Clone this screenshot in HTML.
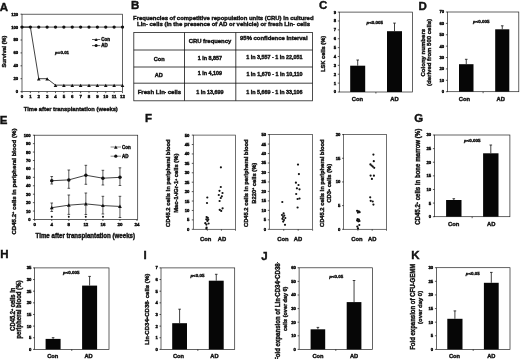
<!DOCTYPE html>
<html><head><meta charset="utf-8"><title>Figure</title>
<style>
html,body{margin:0;padding:0;background:#fff;}
body{width:520px;height:359px;overflow:hidden;}
svg{display:block;font-family:"Liberation Sans",sans-serif;fill:#111;}
text{stroke:#111;stroke-width:0.4px;paint-order:stroke;}
text.tk{stroke-width:0.45px;}
</style></head><body>
<svg width="520" height="359" viewBox="0 0 520 359">
<rect x="0" y="0" width="520" height="359" fill="#fff"/>
<defs><filter id="soft" filterUnits="userSpaceOnUse" x="0" y="0" width="520" height="359" color-interpolation-filters="sRGB"><feGaussianBlur stdDeviation="0.3"/></filter></defs>
<g filter="url(#soft)">
<rect x="0" y="0" width="520" height="359" fill="#fff"/>
<text x="-0.20" y="11.22" font-size="11.5" text-anchor="start" font-weight="bold">A</text>
<text x="131.00" y="9.22" font-size="11.5" text-anchor="start" font-weight="bold">B</text>
<text x="319.00" y="9.32" font-size="11.5" text-anchor="start" font-weight="bold">C</text>
<text x="418.50" y="9.52" font-size="11.5" text-anchor="start" font-weight="bold">D</text>
<text x="-0.30" y="124.23" font-size="11.5" text-anchor="start" font-weight="bold">E</text>
<text x="145.00" y="121.53" font-size="11.5" text-anchor="start" font-weight="bold">F</text>
<text x="414.30" y="122.03" font-size="11.5" text-anchor="start" font-weight="bold">G</text>
<text x="0.20" y="258.22" font-size="11.5" text-anchor="start" font-weight="bold">H</text>
<text x="143.50" y="259.02" font-size="11.5" text-anchor="start" font-weight="bold">I</text>
<text x="261.20" y="259.62" font-size="11.5" text-anchor="start" font-weight="bold">J</text>
<text x="411.30" y="259.02" font-size="11.5" text-anchor="start" font-weight="bold">K</text>
<rect x="22.00" y="14.20" width="100.50" height="77.40" fill="none" stroke="#222" stroke-width="0.7"/>
<line x1="20.50" y1="91.60" x2="22.00" y2="91.60" stroke="#111" stroke-width="0.7"/>
<text x="18.20" y="93.07" font-size="4.2" text-anchor="end" font-weight="bold" class="tk">0</text>
<line x1="20.50" y1="78.70" x2="22.00" y2="78.70" stroke="#111" stroke-width="0.7"/>
<text x="18.20" y="80.17" font-size="4.2" text-anchor="end" font-weight="bold" class="tk">20</text>
<line x1="20.50" y1="65.80" x2="22.00" y2="65.80" stroke="#111" stroke-width="0.7"/>
<text x="18.20" y="67.27" font-size="4.2" text-anchor="end" font-weight="bold" class="tk">40</text>
<line x1="20.50" y1="52.90" x2="22.00" y2="52.90" stroke="#111" stroke-width="0.7"/>
<text x="18.20" y="54.37" font-size="4.2" text-anchor="end" font-weight="bold" class="tk">60</text>
<line x1="20.50" y1="40.00" x2="22.00" y2="40.00" stroke="#111" stroke-width="0.7"/>
<text x="18.20" y="41.47" font-size="4.2" text-anchor="end" font-weight="bold" class="tk">80</text>
<line x1="20.50" y1="27.10" x2="22.00" y2="27.10" stroke="#111" stroke-width="0.7"/>
<text x="18.20" y="28.57" font-size="4.2" text-anchor="end" font-weight="bold" class="tk">100</text>
<line x1="20.50" y1="14.20" x2="22.00" y2="14.20" stroke="#111" stroke-width="0.7"/>
<text x="18.20" y="15.67" font-size="4.2" text-anchor="end" font-weight="bold" class="tk">120</text>
<line x1="22.00" y1="91.60" x2="22.00" y2="93.10" stroke="#111" stroke-width="0.7"/>
<text x="22.00" y="98.24" font-size="4.4" text-anchor="middle" font-weight="bold" class="tk">0</text>
<line x1="30.38" y1="91.60" x2="30.38" y2="93.10" stroke="#111" stroke-width="0.7"/>
<text x="30.38" y="98.24" font-size="4.4" text-anchor="middle" font-weight="bold" class="tk">1</text>
<line x1="38.75" y1="91.60" x2="38.75" y2="93.10" stroke="#111" stroke-width="0.7"/>
<text x="38.75" y="98.24" font-size="4.4" text-anchor="middle" font-weight="bold" class="tk">2</text>
<line x1="47.12" y1="91.60" x2="47.12" y2="93.10" stroke="#111" stroke-width="0.7"/>
<text x="47.12" y="98.24" font-size="4.4" text-anchor="middle" font-weight="bold" class="tk">3</text>
<line x1="55.50" y1="91.60" x2="55.50" y2="93.10" stroke="#111" stroke-width="0.7"/>
<text x="55.50" y="98.24" font-size="4.4" text-anchor="middle" font-weight="bold" class="tk">4</text>
<line x1="63.88" y1="91.60" x2="63.88" y2="93.10" stroke="#111" stroke-width="0.7"/>
<text x="63.88" y="98.24" font-size="4.4" text-anchor="middle" font-weight="bold" class="tk">5</text>
<line x1="72.25" y1="91.60" x2="72.25" y2="93.10" stroke="#111" stroke-width="0.7"/>
<text x="72.25" y="98.24" font-size="4.4" text-anchor="middle" font-weight="bold" class="tk">6</text>
<line x1="80.62" y1="91.60" x2="80.62" y2="93.10" stroke="#111" stroke-width="0.7"/>
<text x="80.62" y="98.24" font-size="4.4" text-anchor="middle" font-weight="bold" class="tk">7</text>
<line x1="89.00" y1="91.60" x2="89.00" y2="93.10" stroke="#111" stroke-width="0.7"/>
<text x="89.00" y="98.24" font-size="4.4" text-anchor="middle" font-weight="bold" class="tk">8</text>
<line x1="97.38" y1="91.60" x2="97.38" y2="93.10" stroke="#111" stroke-width="0.7"/>
<text x="97.38" y="98.24" font-size="4.4" text-anchor="middle" font-weight="bold" class="tk">9</text>
<line x1="105.75" y1="91.60" x2="105.75" y2="93.10" stroke="#111" stroke-width="0.7"/>
<text x="105.75" y="98.24" font-size="4.4" text-anchor="middle" font-weight="bold" class="tk">10</text>
<line x1="114.12" y1="91.60" x2="114.12" y2="93.10" stroke="#111" stroke-width="0.7"/>
<text x="114.12" y="98.24" font-size="4.4" text-anchor="middle" font-weight="bold" class="tk">11</text>
<line x1="122.50" y1="91.60" x2="122.50" y2="93.10" stroke="#111" stroke-width="0.7"/>
<text x="122.50" y="98.24" font-size="4.4" text-anchor="middle" font-weight="bold" class="tk">12</text>
<line x1="22.00" y1="27.10" x2="122.50" y2="27.10" stroke="#222" stroke-width="0.8"/>
<circle cx="22.00" cy="27.10" r="1.65" fill="#111"/>
<circle cx="30.38" cy="27.10" r="1.65" fill="#111"/>
<circle cx="38.75" cy="27.10" r="1.65" fill="#111"/>
<circle cx="47.12" cy="27.10" r="1.65" fill="#111"/>
<circle cx="55.50" cy="27.10" r="1.65" fill="#111"/>
<circle cx="63.88" cy="27.10" r="1.65" fill="#111"/>
<circle cx="72.25" cy="27.10" r="1.65" fill="#111"/>
<circle cx="80.62" cy="27.10" r="1.65" fill="#111"/>
<circle cx="89.00" cy="27.10" r="1.65" fill="#111"/>
<circle cx="97.38" cy="27.10" r="1.65" fill="#111"/>
<circle cx="105.75" cy="27.10" r="1.65" fill="#111"/>
<circle cx="114.12" cy="27.10" r="1.65" fill="#111"/>
<circle cx="122.50" cy="27.10" r="1.65" fill="#111"/>
<polyline points="22.00,27.10 30.38,27.10 38.75,78.70 47.12,78.70 55.50,85.15 63.88,85.15 72.25,85.15 80.62,85.15 89.00,85.15 97.38,85.15 105.75,85.15 114.12,85.15 122.50,85.15" fill="none" stroke="#111" stroke-width="0.8"/>
<path d="M38.75 77.20 L40.55 80.44 L36.95 80.44Z" fill="#111"/>
<path d="M47.12 77.20 L48.92 80.44 L45.33 80.44Z" fill="#111"/>
<path d="M55.50 83.65 L57.30 86.89 L53.70 86.89Z" fill="#111"/>
<path d="M63.88 83.65 L65.67 86.89 L62.08 86.89Z" fill="#111"/>
<path d="M72.25 83.65 L74.05 86.89 L70.45 86.89Z" fill="#111"/>
<path d="M80.62 83.65 L82.42 86.89 L78.83 86.89Z" fill="#111"/>
<path d="M89.00 83.65 L90.80 86.89 L87.20 86.89Z" fill="#111"/>
<path d="M97.38 83.65 L99.17 86.89 L95.58 86.89Z" fill="#111"/>
<path d="M105.75 83.65 L107.55 86.89 L103.95 86.89Z" fill="#111"/>
<path d="M114.12 83.65 L115.92 86.89 L112.33 86.89Z" fill="#111"/>
<path d="M122.50 83.65 L124.30 86.89 L120.70 86.89Z" fill="#111"/>
<text x="70.80" y="110.77" font-size="6.2" text-anchor="middle" font-weight="bold" textLength="94.00" lengthAdjust="spacingAndGlyphs">Time after transplantation (weeks)</text>
<text x="4.20" y="53.56" font-size="5.6" text-anchor="middle" font-weight="bold" transform="rotate(-90 4.20 51.60)" textLength="32.00" lengthAdjust="spacingAndGlyphs">Survival (%)</text>
<text x="62.10" y="54.27" font-size="3.9" text-anchor="middle" font-weight="bold" textLength="14.0" lengthAdjust="spacingAndGlyphs" style="stroke-width:0.35px"><tspan font-style="italic">p</tspan>=0.01</text>
<line x1="92.00" y1="39.50" x2="100.20" y2="39.50" stroke="#111" stroke-width="0.7"/>
<path d="M96.10 38.10 L97.70 40.98 L94.50 40.98Z" fill="#111"/>
<text x="101.20" y="41.08" font-size="4.5" text-anchor="start" font-weight="bold">Con</text>
<line x1="92.00" y1="45.60" x2="100.20" y2="45.60" stroke="#111" stroke-width="0.7"/>
<circle cx="96.10" cy="45.60" r="1.5" fill="#111"/>
<text x="101.20" y="47.18" font-size="4.5" text-anchor="start" font-weight="bold">AD</text>
<text x="223.30" y="19.70" font-size="6.0" text-anchor="middle" font-weight="bold" textLength="180.50" lengthAdjust="spacingAndGlyphs">Frequencies of competitive repopulation units (CRU) in cultured</text>
<text x="223.50" y="26.40" font-size="6.0" text-anchor="middle" font-weight="bold" textLength="173.00" lengthAdjust="spacingAndGlyphs">Lin- cells (in the presence of AD or vehicle) or fresh Lin- cells</text>
<rect x="133.80" y="32.50" width="178.70" height="68.30" fill="none" stroke="#222" stroke-width="0.8"/>
<line x1="133.80" y1="50.00" x2="312.50" y2="50.00" stroke="#111" stroke-width="0.8"/>
<line x1="133.80" y1="67.00" x2="312.50" y2="67.00" stroke="#111" stroke-width="0.8"/>
<line x1="133.80" y1="83.20" x2="312.50" y2="83.20" stroke="#111" stroke-width="0.8"/>
<line x1="184.50" y1="32.50" x2="184.50" y2="100.80" stroke="#111" stroke-width="0.8"/>
<line x1="235.80" y1="32.50" x2="235.80" y2="100.80" stroke="#111" stroke-width="0.8"/>
<text x="210.00" y="43.36" font-size="5.9" text-anchor="middle" font-weight="bold">CRU frequency</text>
<text x="273.80" y="40.06" font-size="5.9" text-anchor="middle" font-weight="bold" textLength="67.50" lengthAdjust="spacingAndGlyphs">95% confidence interval</text>
<text x="159.20" y="60.96" font-size="5.6" text-anchor="middle" font-weight="bold">Con</text>
<text x="209.80" y="60.49" font-size="5.4" text-anchor="middle" font-weight="bold">1 in 8,857</text>
<text x="274.40" y="59.09" font-size="5.4" text-anchor="middle" font-weight="bold">1 in 3,557 - 1 in 22,051</text>
<text x="158.80" y="76.56" font-size="5.6" text-anchor="middle" font-weight="bold">AD</text>
<text x="209.80" y="74.89" font-size="5.4" text-anchor="middle" font-weight="bold">1 in 4,109</text>
<text x="274.40" y="76.49" font-size="5.4" text-anchor="middle" font-weight="bold">1 in 1,670 - 1 in 10,110</text>
<text x="159.4" y="94.06" font-size="5.9" textLength="43.5" lengthAdjust="spacingAndGlyphs" text-anchor="middle" font-weight="bold">Fresh Lin<tspan font-size="3.5" dy="-1.5">-</tspan><tspan dy="1.5"> cells</tspan></text>
<text x="209.80" y="93.89" font-size="5.4" text-anchor="middle" font-weight="bold">1 in 13,699</text>
<text x="274.40" y="93.89" font-size="5.4" text-anchor="middle" font-weight="bold">1 in 5,669 - 1 in 33,106</text>
<rect x="339.30" y="12.10" width="73.20" height="79.90" fill="none" stroke="#222" stroke-width="0.7"/>
<line x1="337.80" y1="92.00" x2="339.30" y2="92.00" stroke="#111" stroke-width="0.7"/>
<text x="336.10" y="93.47" font-size="4.2" text-anchor="end" font-weight="bold" class="tk">0</text>
<line x1="337.80" y1="83.12" x2="339.30" y2="83.12" stroke="#111" stroke-width="0.7"/>
<text x="336.10" y="84.59" font-size="4.2" text-anchor="end" font-weight="bold" class="tk">1</text>
<line x1="337.80" y1="74.24" x2="339.30" y2="74.24" stroke="#111" stroke-width="0.7"/>
<text x="336.10" y="75.71" font-size="4.2" text-anchor="end" font-weight="bold" class="tk">2</text>
<line x1="337.80" y1="65.37" x2="339.30" y2="65.37" stroke="#111" stroke-width="0.7"/>
<text x="336.10" y="66.84" font-size="4.2" text-anchor="end" font-weight="bold" class="tk">3</text>
<line x1="337.80" y1="56.49" x2="339.30" y2="56.49" stroke="#111" stroke-width="0.7"/>
<text x="336.10" y="57.96" font-size="4.2" text-anchor="end" font-weight="bold" class="tk">4</text>
<line x1="337.80" y1="47.61" x2="339.30" y2="47.61" stroke="#111" stroke-width="0.7"/>
<text x="336.10" y="49.08" font-size="4.2" text-anchor="end" font-weight="bold" class="tk">5</text>
<line x1="337.80" y1="38.73" x2="339.30" y2="38.73" stroke="#111" stroke-width="0.7"/>
<text x="336.10" y="40.20" font-size="4.2" text-anchor="end" font-weight="bold" class="tk">6</text>
<line x1="337.80" y1="29.86" x2="339.30" y2="29.86" stroke="#111" stroke-width="0.7"/>
<text x="336.10" y="31.33" font-size="4.2" text-anchor="end" font-weight="bold" class="tk">7</text>
<line x1="337.80" y1="20.98" x2="339.30" y2="20.98" stroke="#111" stroke-width="0.7"/>
<text x="336.10" y="22.45" font-size="4.2" text-anchor="end" font-weight="bold" class="tk">8</text>
<line x1="337.80" y1="12.10" x2="339.30" y2="12.10" stroke="#111" stroke-width="0.7"/>
<text x="336.10" y="13.57" font-size="4.2" text-anchor="end" font-weight="bold" class="tk">9</text>
<rect x="350.20" y="65.70" width="15.00" height="26.30" fill="#060606"/>
<line x1="357.70" y1="65.70" x2="357.70" y2="60.00" stroke="#111" stroke-width="0.8"/>
<line x1="356.40" y1="60.00" x2="359.00" y2="60.00" stroke="#111" stroke-width="0.8"/>
<rect x="387.00" y="31.20" width="15.00" height="60.80" fill="#060606"/>
<line x1="394.50" y1="31.20" x2="394.50" y2="23.10" stroke="#111" stroke-width="0.8"/>
<line x1="393.20" y1="23.10" x2="395.80" y2="23.10" stroke="#111" stroke-width="0.8"/>
<text x="357.50" y="100.53" font-size="5.8" text-anchor="middle" font-weight="bold">Con</text>
<text x="394.50" y="100.53" font-size="5.8" text-anchor="middle" font-weight="bold">AD</text>
<line x1="375.90" y1="92.00" x2="375.90" y2="93.50" stroke="#111" stroke-width="0.7"/>
<text x="374.70" y="24.16" font-size="3.9" text-anchor="middle" font-weight="bold" textLength="16.6" lengthAdjust="spacingAndGlyphs" style="stroke-width:0.35px"><tspan font-style="italic">p</tspan>&lt;0.005</text>
<text x="323.20" y="56.00" font-size="6.0" text-anchor="middle" font-weight="bold" transform="rotate(-90 323.20 53.90)" textLength="36.20" lengthAdjust="spacingAndGlyphs">LSK cells (%)</text>
<rect x="447.40" y="12.00" width="71.40" height="79.70" fill="none" stroke="#222" stroke-width="0.7"/>
<line x1="445.90" y1="91.70" x2="447.40" y2="91.70" stroke="#111" stroke-width="0.7"/>
<text x="444.20" y="93.17" font-size="4.2" text-anchor="end" font-weight="bold" class="tk">0</text>
<line x1="445.90" y1="80.31" x2="447.40" y2="80.31" stroke="#111" stroke-width="0.7"/>
<text x="444.20" y="81.78" font-size="4.2" text-anchor="end" font-weight="bold" class="tk">10</text>
<line x1="445.90" y1="68.93" x2="447.40" y2="68.93" stroke="#111" stroke-width="0.7"/>
<text x="444.20" y="70.40" font-size="4.2" text-anchor="end" font-weight="bold" class="tk">20</text>
<line x1="445.90" y1="57.54" x2="447.40" y2="57.54" stroke="#111" stroke-width="0.7"/>
<text x="444.20" y="59.01" font-size="4.2" text-anchor="end" font-weight="bold" class="tk">30</text>
<line x1="445.90" y1="46.16" x2="447.40" y2="46.16" stroke="#111" stroke-width="0.7"/>
<text x="444.20" y="47.63" font-size="4.2" text-anchor="end" font-weight="bold" class="tk">40</text>
<line x1="445.90" y1="34.77" x2="447.40" y2="34.77" stroke="#111" stroke-width="0.7"/>
<text x="444.20" y="36.24" font-size="4.2" text-anchor="end" font-weight="bold" class="tk">50</text>
<line x1="445.90" y1="23.39" x2="447.40" y2="23.39" stroke="#111" stroke-width="0.7"/>
<text x="444.20" y="24.86" font-size="4.2" text-anchor="end" font-weight="bold" class="tk">60</text>
<line x1="445.90" y1="12.00" x2="447.40" y2="12.00" stroke="#111" stroke-width="0.7"/>
<text x="444.20" y="13.47" font-size="4.2" text-anchor="end" font-weight="bold" class="tk">70</text>
<rect x="459.00" y="64.20" width="14.50" height="27.50" fill="#060606"/>
<line x1="466.25" y1="64.20" x2="466.25" y2="59.30" stroke="#111" stroke-width="0.8"/>
<line x1="464.95" y1="59.30" x2="467.55" y2="59.30" stroke="#111" stroke-width="0.8"/>
<rect x="495.20" y="29.30" width="14.10" height="62.40" fill="#060606"/>
<line x1="502.25" y1="29.30" x2="502.25" y2="25.80" stroke="#111" stroke-width="0.8"/>
<line x1="500.95" y1="25.80" x2="503.55" y2="25.80" stroke="#111" stroke-width="0.8"/>
<text x="464.50" y="100.53" font-size="5.8" text-anchor="middle" font-weight="bold">Con</text>
<text x="500.80" y="100.53" font-size="5.8" text-anchor="middle" font-weight="bold">AD</text>
<line x1="483.10" y1="91.70" x2="483.10" y2="93.20" stroke="#111" stroke-width="0.7"/>
<text x="481.30" y="22.76" font-size="3.9" text-anchor="middle" font-weight="bold" textLength="16.6" lengthAdjust="spacingAndGlyphs" style="stroke-width:0.35px"><tspan font-style="italic">p</tspan>&lt;0.005</text>
<text x="422.80" y="54.84" font-size="6.1" text-anchor="middle" font-weight="bold" transform="rotate(-90 422.80 52.70)" textLength="47.60" lengthAdjust="spacingAndGlyphs">Colony numbers</text>
<text x="428.90" y="54.53" font-size="6.1" text-anchor="middle" font-weight="bold" transform="rotate(-90 428.90 52.40)" textLength="67.00" lengthAdjust="spacingAndGlyphs">(derived from 500 cells)</text>
<rect x="34.40" y="135.20" width="103.30" height="84.30" fill="none" stroke="#222" stroke-width="0.7"/>
<line x1="32.90" y1="219.50" x2="34.40" y2="219.50" stroke="#111" stroke-width="0.7"/>
<text x="30.70" y="220.97" font-size="4.2" text-anchor="end" font-weight="bold" class="tk">0</text>
<line x1="32.90" y1="211.07" x2="34.40" y2="211.07" stroke="#111" stroke-width="0.7"/>
<text x="30.70" y="212.54" font-size="4.2" text-anchor="end" font-weight="bold" class="tk">10</text>
<line x1="32.90" y1="202.64" x2="34.40" y2="202.64" stroke="#111" stroke-width="0.7"/>
<text x="30.70" y="204.11" font-size="4.2" text-anchor="end" font-weight="bold" class="tk">20</text>
<line x1="32.90" y1="194.21" x2="34.40" y2="194.21" stroke="#111" stroke-width="0.7"/>
<text x="30.70" y="195.68" font-size="4.2" text-anchor="end" font-weight="bold" class="tk">30</text>
<line x1="32.90" y1="185.78" x2="34.40" y2="185.78" stroke="#111" stroke-width="0.7"/>
<text x="30.70" y="187.25" font-size="4.2" text-anchor="end" font-weight="bold" class="tk">40</text>
<line x1="32.90" y1="177.35" x2="34.40" y2="177.35" stroke="#111" stroke-width="0.7"/>
<text x="30.70" y="178.82" font-size="4.2" text-anchor="end" font-weight="bold" class="tk">50</text>
<line x1="32.90" y1="168.92" x2="34.40" y2="168.92" stroke="#111" stroke-width="0.7"/>
<text x="30.70" y="170.39" font-size="4.2" text-anchor="end" font-weight="bold" class="tk">60</text>
<line x1="32.90" y1="160.49" x2="34.40" y2="160.49" stroke="#111" stroke-width="0.7"/>
<text x="30.70" y="161.96" font-size="4.2" text-anchor="end" font-weight="bold" class="tk">70</text>
<line x1="32.90" y1="152.06" x2="34.40" y2="152.06" stroke="#111" stroke-width="0.7"/>
<text x="30.70" y="153.53" font-size="4.2" text-anchor="end" font-weight="bold" class="tk">80</text>
<line x1="32.90" y1="143.63" x2="34.40" y2="143.63" stroke="#111" stroke-width="0.7"/>
<text x="30.70" y="145.10" font-size="4.2" text-anchor="end" font-weight="bold" class="tk">90</text>
<line x1="32.90" y1="135.20" x2="34.40" y2="135.20" stroke="#111" stroke-width="0.7"/>
<text x="30.70" y="136.67" font-size="4.2" text-anchor="end" font-weight="bold" class="tk">100</text>
<line x1="34.70" y1="219.50" x2="34.70" y2="221.00" stroke="#111" stroke-width="0.7"/>
<text x="34.70" y="226.24" font-size="4.4" text-anchor="middle" font-weight="bold" class="tk">0</text>
<line x1="51.75" y1="219.50" x2="51.75" y2="221.00" stroke="#111" stroke-width="0.7"/>
<text x="51.75" y="226.24" font-size="4.4" text-anchor="middle" font-weight="bold" class="tk">4</text>
<line x1="68.80" y1="219.50" x2="68.80" y2="221.00" stroke="#111" stroke-width="0.7"/>
<text x="68.80" y="226.24" font-size="4.4" text-anchor="middle" font-weight="bold" class="tk">8</text>
<line x1="85.85" y1="219.50" x2="85.85" y2="221.00" stroke="#111" stroke-width="0.7"/>
<text x="85.85" y="226.24" font-size="4.4" text-anchor="middle" font-weight="bold" class="tk">12</text>
<line x1="102.90" y1="219.50" x2="102.90" y2="221.00" stroke="#111" stroke-width="0.7"/>
<text x="102.90" y="226.24" font-size="4.4" text-anchor="middle" font-weight="bold" class="tk">16</text>
<line x1="119.95" y1="219.50" x2="119.95" y2="221.00" stroke="#111" stroke-width="0.7"/>
<text x="119.95" y="226.24" font-size="4.4" text-anchor="middle" font-weight="bold" class="tk">20</text>
<line x1="137.00" y1="219.50" x2="137.00" y2="221.00" stroke="#111" stroke-width="0.7"/>
<text x="137.00" y="226.24" font-size="4.4" text-anchor="middle" font-weight="bold" class="tk">24</text>
<polyline points="51.75,180.72 68.80,179.88 85.85,175.24 102.90,178.19 119.95,177.35" fill="none" stroke="#111" stroke-width="0.8"/>
<line x1="51.75" y1="176.50" x2="51.75" y2="184.00" stroke="#111" stroke-width="0.7"/>
<line x1="50.45" y1="176.50" x2="53.05" y2="176.50" stroke="#111" stroke-width="0.7"/>
<line x1="50.45" y1="184.00" x2="53.05" y2="184.00" stroke="#111" stroke-width="0.7"/>
<circle cx="51.75" cy="180.72" r="1.75" fill="#111"/>
<line x1="68.80" y1="170.00" x2="68.80" y2="188.30" stroke="#111" stroke-width="0.7"/>
<line x1="67.50" y1="170.00" x2="70.10" y2="170.00" stroke="#111" stroke-width="0.7"/>
<line x1="67.50" y1="188.30" x2="70.10" y2="188.30" stroke="#111" stroke-width="0.7"/>
<circle cx="68.80" cy="179.88" r="1.75" fill="#111"/>
<line x1="85.85" y1="165.30" x2="85.85" y2="184.30" stroke="#111" stroke-width="0.7"/>
<line x1="84.55" y1="165.30" x2="87.15" y2="165.30" stroke="#111" stroke-width="0.7"/>
<line x1="84.55" y1="184.30" x2="87.15" y2="184.30" stroke="#111" stroke-width="0.7"/>
<circle cx="85.85" cy="175.24" r="1.75" fill="#111"/>
<line x1="102.90" y1="170.30" x2="102.90" y2="185.00" stroke="#111" stroke-width="0.7"/>
<line x1="101.60" y1="170.30" x2="104.20" y2="170.30" stroke="#111" stroke-width="0.7"/>
<line x1="101.60" y1="185.00" x2="104.20" y2="185.00" stroke="#111" stroke-width="0.7"/>
<circle cx="102.90" cy="178.19" r="1.75" fill="#111"/>
<line x1="119.95" y1="167.80" x2="119.95" y2="185.50" stroke="#111" stroke-width="0.7"/>
<line x1="118.65" y1="167.80" x2="121.25" y2="167.80" stroke="#111" stroke-width="0.7"/>
<line x1="118.65" y1="185.50" x2="121.25" y2="185.50" stroke="#111" stroke-width="0.7"/>
<circle cx="119.95" cy="177.35" r="1.75" fill="#111"/>
<polyline points="51.75,207.70 68.80,205.17 85.85,203.90 102.90,205.59 119.95,206.43" fill="none" stroke="#111" stroke-width="0.8"/>
<line x1="51.75" y1="203.00" x2="51.75" y2="211.50" stroke="#111" stroke-width="0.7"/>
<line x1="50.45" y1="203.00" x2="53.05" y2="203.00" stroke="#111" stroke-width="0.7"/>
<line x1="50.45" y1="211.50" x2="53.05" y2="211.50" stroke="#111" stroke-width="0.7"/>
<path d="M51.75 205.80 L53.65 209.22 L49.85 209.22Z" fill="#111"/>
<line x1="68.80" y1="195.00" x2="68.80" y2="214.40" stroke="#111" stroke-width="0.7"/>
<line x1="67.50" y1="195.00" x2="70.10" y2="195.00" stroke="#111" stroke-width="0.7"/>
<line x1="67.50" y1="214.40" x2="70.10" y2="214.40" stroke="#111" stroke-width="0.7"/>
<path d="M68.80 203.27 L70.70 206.69 L66.90 206.69Z" fill="#111"/>
<line x1="85.85" y1="193.00" x2="85.85" y2="214.50" stroke="#111" stroke-width="0.7"/>
<line x1="84.55" y1="193.00" x2="87.15" y2="193.00" stroke="#111" stroke-width="0.7"/>
<line x1="84.55" y1="214.50" x2="87.15" y2="214.50" stroke="#111" stroke-width="0.7"/>
<path d="M85.85 202.00 L87.75 205.42 L83.95 205.42Z" fill="#111"/>
<line x1="102.90" y1="196.30" x2="102.90" y2="214.00" stroke="#111" stroke-width="0.7"/>
<line x1="101.60" y1="196.30" x2="104.20" y2="196.30" stroke="#111" stroke-width="0.7"/>
<line x1="101.60" y1="214.00" x2="104.20" y2="214.00" stroke="#111" stroke-width="0.7"/>
<path d="M102.90 203.69 L104.80 207.11 L101.00 207.11Z" fill="#111"/>
<line x1="119.95" y1="196.30" x2="119.95" y2="217.50" stroke="#111" stroke-width="0.7"/>
<line x1="118.65" y1="196.30" x2="121.25" y2="196.30" stroke="#111" stroke-width="0.7"/>
<line x1="118.65" y1="217.50" x2="121.25" y2="217.50" stroke="#111" stroke-width="0.7"/>
<path d="M119.95 204.53 L121.85 207.95 L118.05 207.95Z" fill="#111"/>
<text x="51.75" y="219.23" font-size="3.8" text-anchor="middle" font-weight="bold">*</text>
<text x="68.80" y="219.23" font-size="3.8" text-anchor="middle" font-weight="bold">*</text>
<text x="85.85" y="219.23" font-size="3.8" text-anchor="middle" font-weight="bold">*</text>
<text x="102.90" y="219.23" font-size="3.8" text-anchor="middle" font-weight="bold">*</text>
<text x="85.30" y="238.24" font-size="6.4" text-anchor="middle" font-weight="bold" textLength="99.50" lengthAdjust="spacingAndGlyphs">Time after transplantation (weeks)</text>
<text x="13.50" y="183.77" font-size="6.2" text-anchor="middle" font-weight="bold" transform="rotate(-90 13.50 181.60)" textLength="106.00" lengthAdjust="spacingAndGlyphs">CD45.2<tspan font-size='4' dy='-1.5'>+</tspan><tspan dy='1.5'> cells in peripheral blood (%)</tspan></text>
<line x1="110.60" y1="147.00" x2="121.00" y2="147.00" stroke="#555" stroke-width="0.7"/>
<path d="M115.80 145.40 L117.60 148.64 L114.00 148.64Z" fill="#111"/>
<text x="122.00" y="148.57" font-size="4.5" text-anchor="start" font-weight="bold">Con</text>
<line x1="110.60" y1="156.20" x2="121.00" y2="156.20" stroke="#555" stroke-width="0.7"/>
<circle cx="115.80" cy="156.20" r="1.6" fill="#111"/>
<text x="122.00" y="157.77" font-size="4.5" text-anchor="start" font-weight="bold">AD</text>
<rect x="193.30" y="135.10" width="42.20" height="94.20" fill="none" stroke="#333" stroke-width="0.7"/>
<line x1="191.80" y1="229.30" x2="193.30" y2="229.30" stroke="#111" stroke-width="0.7"/>
<text x="189.40" y="230.77" font-size="4.2" text-anchor="end" font-weight="bold" class="tk">0</text>
<line x1="191.80" y1="219.88" x2="193.30" y2="219.88" stroke="#111" stroke-width="0.7"/>
<text x="189.40" y="221.35" font-size="4.2" text-anchor="end" font-weight="bold" class="tk">5</text>
<line x1="191.80" y1="210.46" x2="193.30" y2="210.46" stroke="#111" stroke-width="0.7"/>
<text x="189.40" y="211.93" font-size="4.2" text-anchor="end" font-weight="bold" class="tk">10</text>
<line x1="191.80" y1="201.04" x2="193.30" y2="201.04" stroke="#111" stroke-width="0.7"/>
<text x="189.40" y="202.51" font-size="4.2" text-anchor="end" font-weight="bold" class="tk">15</text>
<line x1="191.80" y1="191.62" x2="193.30" y2="191.62" stroke="#111" stroke-width="0.7"/>
<text x="189.40" y="193.09" font-size="4.2" text-anchor="end" font-weight="bold" class="tk">20</text>
<line x1="191.80" y1="182.20" x2="193.30" y2="182.20" stroke="#111" stroke-width="0.7"/>
<text x="189.40" y="183.67" font-size="4.2" text-anchor="end" font-weight="bold" class="tk">25</text>
<line x1="191.80" y1="172.78" x2="193.30" y2="172.78" stroke="#111" stroke-width="0.7"/>
<text x="189.40" y="174.25" font-size="4.2" text-anchor="end" font-weight="bold" class="tk">30</text>
<line x1="191.80" y1="163.36" x2="193.30" y2="163.36" stroke="#111" stroke-width="0.7"/>
<text x="189.40" y="164.83" font-size="4.2" text-anchor="end" font-weight="bold" class="tk">35</text>
<line x1="191.80" y1="153.94" x2="193.30" y2="153.94" stroke="#111" stroke-width="0.7"/>
<text x="189.40" y="155.41" font-size="4.2" text-anchor="end" font-weight="bold" class="tk">40</text>
<line x1="191.80" y1="144.52" x2="193.30" y2="144.52" stroke="#111" stroke-width="0.7"/>
<text x="189.40" y="145.99" font-size="4.2" text-anchor="end" font-weight="bold" class="tk">45</text>
<line x1="191.80" y1="135.10" x2="193.30" y2="135.10" stroke="#111" stroke-width="0.7"/>
<text x="189.40" y="136.57" font-size="4.2" text-anchor="end" font-weight="bold" class="tk">50</text>
<text x="205.70" y="240.73" font-size="5.8" text-anchor="middle" font-weight="bold">Con</text>
<text x="222.00" y="240.73" font-size="5.8" text-anchor="middle" font-weight="bold">AD</text>
<line x1="207.37" y1="229.30" x2="207.37" y2="230.70" stroke="#111" stroke-width="0.7"/>
<line x1="221.43" y1="229.30" x2="221.43" y2="230.70" stroke="#111" stroke-width="0.7"/>
<line x1="235.50" y1="229.30" x2="235.50" y2="230.70" stroke="#111" stroke-width="0.7"/>
<circle cx="207.30" cy="197.50" r="1.1" fill="#111"/>
<circle cx="207.00" cy="203.00" r="1.1" fill="#111"/>
<circle cx="206.60" cy="217.00" r="1.1" fill="#111"/>
<circle cx="207.80" cy="217.80" r="1.1" fill="#111"/>
<circle cx="206.30" cy="219.30" r="1.1" fill="#111"/>
<circle cx="208.30" cy="219.60" r="1.1" fill="#111"/>
<circle cx="207.40" cy="220.90" r="1.1" fill="#111"/>
<circle cx="205.30" cy="223.20" r="1.1" fill="#111"/>
<circle cx="208.60" cy="223.50" r="1.1" fill="#111"/>
<circle cx="206.40" cy="224.60" r="1.1" fill="#111"/>
<circle cx="206.60" cy="227.60" r="1.1" fill="#111"/>
<circle cx="206.40" cy="228.60" r="1.1" fill="#111"/>
<circle cx="220.90" cy="167.30" r="1.1" fill="#111"/>
<circle cx="220.80" cy="187.00" r="1.1" fill="#111"/>
<circle cx="219.50" cy="190.80" r="1.1" fill="#111"/>
<circle cx="222.50" cy="193.00" r="1.1" fill="#111"/>
<circle cx="218.80" cy="195.00" r="1.1" fill="#111"/>
<circle cx="221.80" cy="196.30" r="1.1" fill="#111"/>
<circle cx="220.80" cy="198.00" r="1.1" fill="#111"/>
<circle cx="219.60" cy="201.00" r="1.1" fill="#111"/>
<circle cx="222.60" cy="208.30" r="1.1" fill="#111"/>
<circle cx="219.70" cy="209.80" r="1.1" fill="#111"/>
<circle cx="221.20" cy="210.90" r="1.1" fill="#111"/>
<text x="168.40" y="185.23" font-size="5.8" text-anchor="middle" font-weight="bold" transform="rotate(-90 168.40 183.20)" textLength="87.60" lengthAdjust="spacingAndGlyphs">CD45.2 cells in peripheral blood</text>
<text x="176.20" y="185.23" font-size="5.8" text-anchor="middle" font-weight="bold" transform="rotate(-90 176.20 183.20)">Mac-1<tspan font-size='3.4' dy='-1.3'>+</tspan><tspan dy='1.3'>/Gr-1</tspan><tspan font-size='3.4' dy='-1.3'>+</tspan><tspan dy='1.3'> cells (%)</tspan></text>
<rect x="269.30" y="134.60" width="43.30" height="94.70" fill="none" stroke="#333" stroke-width="0.7"/>
<line x1="267.80" y1="229.30" x2="269.30" y2="229.30" stroke="#111" stroke-width="0.7"/>
<text x="266.10" y="230.77" font-size="4.2" text-anchor="end" font-weight="bold" class="tk">0</text>
<line x1="267.80" y1="219.83" x2="269.30" y2="219.83" stroke="#111" stroke-width="0.7"/>
<text x="266.10" y="221.30" font-size="4.2" text-anchor="end" font-weight="bold" class="tk">5</text>
<line x1="267.80" y1="210.36" x2="269.30" y2="210.36" stroke="#111" stroke-width="0.7"/>
<text x="266.10" y="211.83" font-size="4.2" text-anchor="end" font-weight="bold" class="tk">10</text>
<line x1="267.80" y1="200.89" x2="269.30" y2="200.89" stroke="#111" stroke-width="0.7"/>
<text x="266.10" y="202.36" font-size="4.2" text-anchor="end" font-weight="bold" class="tk">15</text>
<line x1="267.80" y1="191.42" x2="269.30" y2="191.42" stroke="#111" stroke-width="0.7"/>
<text x="266.10" y="192.89" font-size="4.2" text-anchor="end" font-weight="bold" class="tk">20</text>
<line x1="267.80" y1="181.95" x2="269.30" y2="181.95" stroke="#111" stroke-width="0.7"/>
<text x="266.10" y="183.42" font-size="4.2" text-anchor="end" font-weight="bold" class="tk">25</text>
<line x1="267.80" y1="172.48" x2="269.30" y2="172.48" stroke="#111" stroke-width="0.7"/>
<text x="266.10" y="173.95" font-size="4.2" text-anchor="end" font-weight="bold" class="tk">30</text>
<line x1="267.80" y1="163.01" x2="269.30" y2="163.01" stroke="#111" stroke-width="0.7"/>
<text x="266.10" y="164.48" font-size="4.2" text-anchor="end" font-weight="bold" class="tk">35</text>
<line x1="267.80" y1="153.54" x2="269.30" y2="153.54" stroke="#111" stroke-width="0.7"/>
<text x="266.10" y="155.01" font-size="4.2" text-anchor="end" font-weight="bold" class="tk">40</text>
<line x1="267.80" y1="144.07" x2="269.30" y2="144.07" stroke="#111" stroke-width="0.7"/>
<text x="266.10" y="145.54" font-size="4.2" text-anchor="end" font-weight="bold" class="tk">45</text>
<line x1="267.80" y1="134.60" x2="269.30" y2="134.60" stroke="#111" stroke-width="0.7"/>
<text x="266.10" y="136.07" font-size="4.2" text-anchor="end" font-weight="bold" class="tk">50</text>
<text x="283.00" y="240.73" font-size="5.8" text-anchor="middle" font-weight="bold">Con</text>
<text x="298.00" y="240.73" font-size="5.8" text-anchor="middle" font-weight="bold">AD</text>
<line x1="283.73" y1="229.30" x2="283.73" y2="230.70" stroke="#111" stroke-width="0.7"/>
<line x1="298.17" y1="229.30" x2="298.17" y2="230.70" stroke="#111" stroke-width="0.7"/>
<line x1="312.60" y1="229.30" x2="312.60" y2="230.70" stroke="#111" stroke-width="0.7"/>
<circle cx="282.30" cy="202.00" r="1.1" fill="#111"/>
<circle cx="283.60" cy="213.40" r="1.1" fill="#111"/>
<circle cx="282.00" cy="215.00" r="1.1" fill="#111"/>
<circle cx="284.30" cy="215.60" r="1.1" fill="#111"/>
<circle cx="283.00" cy="217.00" r="1.1" fill="#111"/>
<circle cx="285.30" cy="218.00" r="1.1" fill="#111"/>
<circle cx="282.40" cy="218.80" r="1.1" fill="#111"/>
<circle cx="284.00" cy="220.00" r="1.1" fill="#111"/>
<circle cx="283.20" cy="221.60" r="1.1" fill="#111"/>
<circle cx="285.00" cy="224.80" r="1.1" fill="#111"/>
<circle cx="298.00" cy="164.60" r="1.1" fill="#111"/>
<circle cx="298.90" cy="174.10" r="1.1" fill="#111"/>
<circle cx="295.90" cy="182.70" r="1.1" fill="#111"/>
<circle cx="298.50" cy="185.00" r="1.1" fill="#111"/>
<circle cx="296.90" cy="188.30" r="1.1" fill="#111"/>
<circle cx="299.50" cy="189.30" r="1.1" fill="#111"/>
<circle cx="296.20" cy="194.00" r="1.1" fill="#111"/>
<circle cx="297.60" cy="199.00" r="1.1" fill="#111"/>
<circle cx="299.50" cy="198.50" r="1.1" fill="#111"/>
<circle cx="297.60" cy="207.50" r="1.1" fill="#111"/>
<text x="246.00" y="185.23" font-size="5.8" text-anchor="middle" font-weight="bold" transform="rotate(-90 246.00 183.20)" textLength="87.60" lengthAdjust="spacingAndGlyphs">CD45.2 cells in peripheral blood</text>
<text x="253.60" y="185.23" font-size="5.8" text-anchor="middle" font-weight="bold" transform="rotate(-90 253.60 183.20)">B220<tspan font-size='3.4' dy='-1.3'>+</tspan><tspan dy='1.3'> cells (%)</tspan></text>
<rect x="343.60" y="134.60" width="42.90" height="94.70" fill="none" stroke="#333" stroke-width="0.7"/>
<line x1="342.10" y1="229.30" x2="343.60" y2="229.30" stroke="#111" stroke-width="0.7"/>
<text x="340.40" y="230.77" font-size="4.2" text-anchor="end" font-weight="bold" class="tk">0</text>
<line x1="342.10" y1="205.62" x2="343.60" y2="205.62" stroke="#111" stroke-width="0.7"/>
<text x="340.40" y="207.09" font-size="4.2" text-anchor="end" font-weight="bold" class="tk">5</text>
<line x1="342.10" y1="181.95" x2="343.60" y2="181.95" stroke="#111" stroke-width="0.7"/>
<text x="340.40" y="183.42" font-size="4.2" text-anchor="end" font-weight="bold" class="tk">10</text>
<line x1="342.10" y1="158.28" x2="343.60" y2="158.28" stroke="#111" stroke-width="0.7"/>
<text x="340.40" y="159.75" font-size="4.2" text-anchor="end" font-weight="bold" class="tk">15</text>
<line x1="342.10" y1="134.60" x2="343.60" y2="134.60" stroke="#111" stroke-width="0.7"/>
<text x="340.40" y="136.07" font-size="4.2" text-anchor="end" font-weight="bold" class="tk">20</text>
<text x="356.90" y="240.73" font-size="5.8" text-anchor="middle" font-weight="bold">Con</text>
<text x="372.30" y="240.73" font-size="5.8" text-anchor="middle" font-weight="bold">AD</text>
<line x1="357.90" y1="229.30" x2="357.90" y2="230.70" stroke="#111" stroke-width="0.7"/>
<line x1="372.20" y1="229.30" x2="372.20" y2="230.70" stroke="#111" stroke-width="0.7"/>
<line x1="386.50" y1="229.30" x2="386.50" y2="230.70" stroke="#111" stroke-width="0.7"/>
<circle cx="357.10" cy="210.80" r="1.1" fill="#111"/>
<circle cx="358.80" cy="211.40" r="1.1" fill="#111"/>
<circle cx="357.90" cy="212.60" r="1.1" fill="#111"/>
<circle cx="359.60" cy="212.20" r="1.1" fill="#111"/>
<circle cx="357.60" cy="219.10" r="1.1" fill="#111"/>
<circle cx="358.90" cy="219.60" r="1.1" fill="#111"/>
<circle cx="357.10" cy="220.40" r="1.1" fill="#111"/>
<circle cx="358.30" cy="221.30" r="1.1" fill="#111"/>
<circle cx="359.50" cy="221.00" r="1.1" fill="#111"/>
<circle cx="359.30" cy="225.00" r="1.1" fill="#111"/>
<circle cx="357.30" cy="226.60" r="1.1" fill="#111"/>
<circle cx="358.00" cy="228.40" r="1.1" fill="#111"/>
<circle cx="373.40" cy="154.60" r="1.1" fill="#111"/>
<circle cx="373.80" cy="161.20" r="1.1" fill="#111"/>
<circle cx="370.40" cy="164.40" r="1.1" fill="#111"/>
<circle cx="371.60" cy="165.50" r="1.1" fill="#111"/>
<circle cx="372.80" cy="166.60" r="1.1" fill="#111"/>
<circle cx="374.20" cy="167.80" r="1.1" fill="#111"/>
<circle cx="370.60" cy="175.60" r="1.1" fill="#111"/>
<circle cx="373.90" cy="175.70" r="1.1" fill="#111"/>
<circle cx="371.90" cy="178.90" r="1.1" fill="#111"/>
<circle cx="370.20" cy="197.30" r="1.1" fill="#111"/>
<circle cx="370.70" cy="200.80" r="1.1" fill="#111"/>
<circle cx="372.70" cy="201.50" r="1.1" fill="#111"/>
<circle cx="373.40" cy="204.60" r="1.1" fill="#111"/>
<text x="321.90" y="185.23" font-size="5.8" text-anchor="middle" font-weight="bold" transform="rotate(-90 321.90 183.20)" textLength="87.60" lengthAdjust="spacingAndGlyphs">CD45.2 cells in peripheral blood</text>
<text x="329.20" y="185.23" font-size="5.8" text-anchor="middle" font-weight="bold" transform="rotate(-90 329.20 183.20)">CD3<tspan font-size='3.4' dy='-1.3'>+</tspan><tspan dy='1.3'> cells (%)</tspan></text>
<rect x="434.40" y="135.00" width="75.50" height="81.70" fill="none" stroke="#222" stroke-width="0.7"/>
<line x1="432.90" y1="216.70" x2="434.40" y2="216.70" stroke="#111" stroke-width="0.7"/>
<text x="431.20" y="218.17" font-size="4.2" text-anchor="end" font-weight="bold" class="tk">0</text>
<line x1="432.90" y1="203.08" x2="434.40" y2="203.08" stroke="#111" stroke-width="0.7"/>
<text x="431.20" y="204.55" font-size="4.2" text-anchor="end" font-weight="bold" class="tk">5</text>
<line x1="432.90" y1="189.47" x2="434.40" y2="189.47" stroke="#111" stroke-width="0.7"/>
<text x="431.20" y="190.94" font-size="4.2" text-anchor="end" font-weight="bold" class="tk">10</text>
<line x1="432.90" y1="175.85" x2="434.40" y2="175.85" stroke="#111" stroke-width="0.7"/>
<text x="431.20" y="177.32" font-size="4.2" text-anchor="end" font-weight="bold" class="tk">15</text>
<line x1="432.90" y1="162.23" x2="434.40" y2="162.23" stroke="#111" stroke-width="0.7"/>
<text x="431.20" y="163.70" font-size="4.2" text-anchor="end" font-weight="bold" class="tk">20</text>
<line x1="432.90" y1="148.62" x2="434.40" y2="148.62" stroke="#111" stroke-width="0.7"/>
<text x="431.20" y="150.09" font-size="4.2" text-anchor="end" font-weight="bold" class="tk">25</text>
<line x1="432.90" y1="135.00" x2="434.40" y2="135.00" stroke="#111" stroke-width="0.7"/>
<text x="431.20" y="136.47" font-size="4.2" text-anchor="end" font-weight="bold" class="tk">30</text>
<rect x="446.10" y="200.00" width="15.40" height="16.70" fill="#060606"/>
<line x1="453.80" y1="200.00" x2="453.80" y2="198.70" stroke="#111" stroke-width="0.8"/>
<line x1="452.50" y1="198.70" x2="455.10" y2="198.70" stroke="#111" stroke-width="0.8"/>
<rect x="483.10" y="153.30" width="15.40" height="63.40" fill="#060606"/>
<line x1="490.80" y1="153.30" x2="490.80" y2="145.00" stroke="#111" stroke-width="0.8"/>
<line x1="489.50" y1="145.00" x2="492.10" y2="145.00" stroke="#111" stroke-width="0.8"/>
<text x="453.70" y="225.93" font-size="5.8" text-anchor="middle" font-weight="bold">Con</text>
<text x="491.30" y="225.93" font-size="5.8" text-anchor="middle" font-weight="bold">AD</text>
<line x1="472.15" y1="216.70" x2="472.15" y2="218.20" stroke="#111" stroke-width="0.7"/>
<text x="472.30" y="141.77" font-size="3.9" text-anchor="middle" font-weight="bold" textLength="16.6" lengthAdjust="spacingAndGlyphs" style="stroke-width:0.35px"><tspan font-style="italic">p</tspan>&lt;0.005</text>
<text x="417.70" y="179.04" font-size="6.4" text-anchor="middle" font-weight="bold" transform="rotate(-90 417.70 176.80)" textLength="96.00" lengthAdjust="spacingAndGlyphs">CD45.2<tspan font-size='4' dy='-1.5'>+</tspan><tspan dy='1.5'> cells in bone marrow  (%)</tspan></text>
<rect x="34.50" y="267.90" width="74.50" height="81.50" fill="none" stroke="#222" stroke-width="0.7"/>
<line x1="33.00" y1="349.40" x2="34.50" y2="349.40" stroke="#111" stroke-width="0.7"/>
<text x="31.30" y="350.87" font-size="4.2" text-anchor="end" font-weight="bold" class="tk">0</text>
<line x1="33.00" y1="337.76" x2="34.50" y2="337.76" stroke="#111" stroke-width="0.7"/>
<text x="31.30" y="339.23" font-size="4.2" text-anchor="end" font-weight="bold" class="tk">5</text>
<line x1="33.00" y1="326.11" x2="34.50" y2="326.11" stroke="#111" stroke-width="0.7"/>
<text x="31.30" y="327.58" font-size="4.2" text-anchor="end" font-weight="bold" class="tk">10</text>
<line x1="33.00" y1="314.47" x2="34.50" y2="314.47" stroke="#111" stroke-width="0.7"/>
<text x="31.30" y="315.94" font-size="4.2" text-anchor="end" font-weight="bold" class="tk">15</text>
<line x1="33.00" y1="302.83" x2="34.50" y2="302.83" stroke="#111" stroke-width="0.7"/>
<text x="31.30" y="304.30" font-size="4.2" text-anchor="end" font-weight="bold" class="tk">20</text>
<line x1="33.00" y1="291.19" x2="34.50" y2="291.19" stroke="#111" stroke-width="0.7"/>
<text x="31.30" y="292.66" font-size="4.2" text-anchor="end" font-weight="bold" class="tk">25</text>
<line x1="33.00" y1="279.54" x2="34.50" y2="279.54" stroke="#111" stroke-width="0.7"/>
<text x="31.30" y="281.01" font-size="4.2" text-anchor="end" font-weight="bold" class="tk">30</text>
<line x1="33.00" y1="267.90" x2="34.50" y2="267.90" stroke="#111" stroke-width="0.7"/>
<text x="31.30" y="269.37" font-size="4.2" text-anchor="end" font-weight="bold" class="tk">35</text>
<rect x="45.60" y="338.90" width="15.00" height="10.50" fill="#060606"/>
<line x1="53.10" y1="338.90" x2="53.10" y2="337.70" stroke="#111" stroke-width="0.8"/>
<line x1="51.80" y1="337.70" x2="54.40" y2="337.70" stroke="#111" stroke-width="0.8"/>
<rect x="82.10" y="285.60" width="15.00" height="63.80" fill="#060606"/>
<line x1="89.60" y1="285.60" x2="89.60" y2="276.40" stroke="#111" stroke-width="0.8"/>
<line x1="88.30" y1="276.40" x2="90.90" y2="276.40" stroke="#111" stroke-width="0.8"/>
<text x="52.80" y="357.80" font-size="5.7" text-anchor="middle" font-weight="bold">Con</text>
<text x="88.60" y="357.80" font-size="5.7" text-anchor="middle" font-weight="bold">AD</text>
<line x1="71.75" y1="349.40" x2="71.75" y2="350.90" stroke="#111" stroke-width="0.7"/>
<text x="71.30" y="274.46" font-size="3.9" text-anchor="middle" font-weight="bold" textLength="16.6" lengthAdjust="spacingAndGlyphs" style="stroke-width:0.35px"><tspan font-style="italic">p</tspan>&lt;0.005</text>
<text x="12.80" y="311.40" font-size="6.3" text-anchor="middle" font-weight="bold" transform="rotate(-90 12.80 309.20)" textLength="43.00" lengthAdjust="spacingAndGlyphs">CD45.2<tspan font-size='4' dy='-1.5'>+</tspan><tspan dy='1.5'> cells in</tspan></text>
<text x="19.30" y="311.81" font-size="6.3" text-anchor="middle" font-weight="bold" transform="rotate(-90 19.30 309.60)" textLength="58.40" lengthAdjust="spacingAndGlyphs">peripheral blood (%)</text>
<rect x="161.00" y="267.90" width="73.70" height="81.50" fill="none" stroke="#222" stroke-width="0.7"/>
<line x1="159.50" y1="349.40" x2="161.00" y2="349.40" stroke="#111" stroke-width="0.7"/>
<text x="157.80" y="350.87" font-size="4.2" text-anchor="end" font-weight="bold" class="tk">0</text>
<line x1="159.50" y1="337.76" x2="161.00" y2="337.76" stroke="#111" stroke-width="0.7"/>
<text x="157.80" y="339.23" font-size="4.2" text-anchor="end" font-weight="bold" class="tk">1</text>
<line x1="159.50" y1="326.11" x2="161.00" y2="326.11" stroke="#111" stroke-width="0.7"/>
<text x="157.80" y="327.58" font-size="4.2" text-anchor="end" font-weight="bold" class="tk">2</text>
<line x1="159.50" y1="314.47" x2="161.00" y2="314.47" stroke="#111" stroke-width="0.7"/>
<text x="157.80" y="315.94" font-size="4.2" text-anchor="end" font-weight="bold" class="tk">3</text>
<line x1="159.50" y1="302.83" x2="161.00" y2="302.83" stroke="#111" stroke-width="0.7"/>
<text x="157.80" y="304.30" font-size="4.2" text-anchor="end" font-weight="bold" class="tk">4</text>
<line x1="159.50" y1="291.19" x2="161.00" y2="291.19" stroke="#111" stroke-width="0.7"/>
<text x="157.80" y="292.66" font-size="4.2" text-anchor="end" font-weight="bold" class="tk">5</text>
<line x1="159.50" y1="279.54" x2="161.00" y2="279.54" stroke="#111" stroke-width="0.7"/>
<text x="157.80" y="281.01" font-size="4.2" text-anchor="end" font-weight="bold" class="tk">6</text>
<line x1="159.50" y1="267.90" x2="161.00" y2="267.90" stroke="#111" stroke-width="0.7"/>
<text x="157.80" y="269.37" font-size="4.2" text-anchor="end" font-weight="bold" class="tk">7</text>
<rect x="172.20" y="323.20" width="14.80" height="26.20" fill="#060606"/>
<line x1="179.60" y1="323.20" x2="179.60" y2="309.20" stroke="#111" stroke-width="0.8"/>
<line x1="178.30" y1="309.20" x2="180.90" y2="309.20" stroke="#111" stroke-width="0.8"/>
<rect x="208.80" y="280.70" width="14.90" height="68.70" fill="#060606"/>
<line x1="216.25" y1="280.70" x2="216.25" y2="274.30" stroke="#111" stroke-width="0.8"/>
<line x1="214.95" y1="274.30" x2="217.55" y2="274.30" stroke="#111" stroke-width="0.8"/>
<text x="178.50" y="357.80" font-size="5.7" text-anchor="middle" font-weight="bold">Con</text>
<text x="214.40" y="357.80" font-size="5.7" text-anchor="middle" font-weight="bold">AD</text>
<line x1="197.85" y1="349.40" x2="197.85" y2="350.90" stroke="#111" stroke-width="0.7"/>
<text x="197.40" y="277.26" font-size="3.9" text-anchor="middle" font-weight="bold" textLength="14.0" lengthAdjust="spacingAndGlyphs" style="stroke-width:0.35px"><tspan font-style="italic">p</tspan>&lt;0.05</text>
<text x="147.20" y="311.53" font-size="6.1" text-anchor="middle" font-weight="bold" transform="rotate(-90 147.20 309.40)" textLength="71.40" lengthAdjust="spacingAndGlyphs">Lin<tspan font-size='4' dy='-1.5'>-</tspan><tspan dy='1.5'>CD34</tspan><tspan font-size='4' dy='-1.5'>+</tspan><tspan dy='1.5'>CD38</tspan><tspan font-size='4' dy='-1.5'>-</tspan><tspan dy='1.5'> cells (%)</tspan></text>
<rect x="299.10" y="267.80" width="73.40" height="81.60" fill="none" stroke="#222" stroke-width="0.7"/>
<line x1="297.60" y1="349.40" x2="299.10" y2="349.40" stroke="#111" stroke-width="0.7"/>
<text x="295.90" y="350.87" font-size="4.2" text-anchor="end" font-weight="bold" class="tk">0</text>
<line x1="297.60" y1="335.80" x2="299.10" y2="335.80" stroke="#111" stroke-width="0.7"/>
<text x="295.90" y="337.27" font-size="4.2" text-anchor="end" font-weight="bold" class="tk">10</text>
<line x1="297.60" y1="322.20" x2="299.10" y2="322.20" stroke="#111" stroke-width="0.7"/>
<text x="295.90" y="323.67" font-size="4.2" text-anchor="end" font-weight="bold" class="tk">20</text>
<line x1="297.60" y1="308.60" x2="299.10" y2="308.60" stroke="#111" stroke-width="0.7"/>
<text x="295.90" y="310.07" font-size="4.2" text-anchor="end" font-weight="bold" class="tk">30</text>
<line x1="297.60" y1="295.00" x2="299.10" y2="295.00" stroke="#111" stroke-width="0.7"/>
<text x="295.90" y="296.47" font-size="4.2" text-anchor="end" font-weight="bold" class="tk">40</text>
<line x1="297.60" y1="281.40" x2="299.10" y2="281.40" stroke="#111" stroke-width="0.7"/>
<text x="295.90" y="282.87" font-size="4.2" text-anchor="end" font-weight="bold" class="tk">50</text>
<line x1="297.60" y1="267.80" x2="299.10" y2="267.80" stroke="#111" stroke-width="0.7"/>
<text x="295.90" y="269.27" font-size="4.2" text-anchor="end" font-weight="bold" class="tk">60</text>
<rect x="310.60" y="329.30" width="14.60" height="20.10" fill="#060606"/>
<line x1="317.90" y1="329.30" x2="317.90" y2="327.40" stroke="#111" stroke-width="0.8"/>
<line x1="316.60" y1="327.40" x2="319.20" y2="327.40" stroke="#111" stroke-width="0.8"/>
<rect x="346.70" y="302.10" width="14.70" height="47.30" fill="#060606"/>
<line x1="354.05" y1="302.10" x2="354.05" y2="280.50" stroke="#111" stroke-width="0.8"/>
<line x1="352.75" y1="280.50" x2="355.35" y2="280.50" stroke="#111" stroke-width="0.8"/>
<text x="318.00" y="357.80" font-size="5.7" text-anchor="middle" font-weight="bold">Con</text>
<text x="354.00" y="357.80" font-size="5.7" text-anchor="middle" font-weight="bold">AD</text>
<line x1="335.80" y1="349.40" x2="335.80" y2="350.90" stroke="#111" stroke-width="0.7"/>
<text x="336.20" y="277.66" font-size="3.9" text-anchor="middle" font-weight="bold" textLength="14.0" lengthAdjust="spacingAndGlyphs" style="stroke-width:0.35px"><tspan font-style="italic">p</tspan>&lt;0.05</text>
<text x="277.80" y="313.70" font-size="6.3" text-anchor="middle" font-weight="bold" transform="rotate(-90 277.80 311.50)" textLength="99.00" lengthAdjust="spacingAndGlyphs">Fold expansion of Lin<tspan font-size='4' dy='-1.5'>-</tspan><tspan dy='1.5'>CD34</tspan><tspan font-size='4' dy='-1.5'>+</tspan><tspan dy='1.5'>CD38</tspan><tspan font-size='4' dy='-1.5'>-</tspan></text>
<text x="284.40" y="310.97" font-size="6.2" text-anchor="middle" font-weight="bold" transform="rotate(-90 284.40 308.80)" textLength="44.50" lengthAdjust="spacingAndGlyphs">cells (over day 0)</text>
<rect x="436.40" y="267.70" width="73.60" height="81.70" fill="none" stroke="#222" stroke-width="0.7"/>
<line x1="434.90" y1="349.40" x2="436.40" y2="349.40" stroke="#111" stroke-width="0.7"/>
<text x="433.20" y="350.87" font-size="4.2" text-anchor="end" font-weight="bold" class="tk">0</text>
<line x1="434.90" y1="335.78" x2="436.40" y2="335.78" stroke="#111" stroke-width="0.7"/>
<text x="433.20" y="337.25" font-size="4.2" text-anchor="end" font-weight="bold" class="tk">5</text>
<line x1="434.90" y1="322.17" x2="436.40" y2="322.17" stroke="#111" stroke-width="0.7"/>
<text x="433.20" y="323.64" font-size="4.2" text-anchor="end" font-weight="bold" class="tk">10</text>
<line x1="434.90" y1="308.55" x2="436.40" y2="308.55" stroke="#111" stroke-width="0.7"/>
<text x="433.20" y="310.02" font-size="4.2" text-anchor="end" font-weight="bold" class="tk">15</text>
<line x1="434.90" y1="294.93" x2="436.40" y2="294.93" stroke="#111" stroke-width="0.7"/>
<text x="433.20" y="296.40" font-size="4.2" text-anchor="end" font-weight="bold" class="tk">20</text>
<line x1="434.90" y1="281.32" x2="436.40" y2="281.32" stroke="#111" stroke-width="0.7"/>
<text x="433.20" y="282.79" font-size="4.2" text-anchor="end" font-weight="bold" class="tk">25</text>
<line x1="434.90" y1="267.70" x2="436.40" y2="267.70" stroke="#111" stroke-width="0.7"/>
<text x="433.20" y="269.17" font-size="4.2" text-anchor="end" font-weight="bold" class="tk">30</text>
<rect x="447.30" y="318.80" width="15.20" height="30.60" fill="#060606"/>
<line x1="454.90" y1="318.80" x2="454.90" y2="310.90" stroke="#111" stroke-width="0.8"/>
<line x1="453.60" y1="310.90" x2="456.20" y2="310.90" stroke="#111" stroke-width="0.8"/>
<rect x="483.90" y="282.80" width="14.80" height="66.60" fill="#060606"/>
<line x1="491.30" y1="282.80" x2="491.30" y2="272.40" stroke="#111" stroke-width="0.8"/>
<line x1="490.00" y1="272.40" x2="492.60" y2="272.40" stroke="#111" stroke-width="0.8"/>
<text x="454.50" y="357.80" font-size="5.7" text-anchor="middle" font-weight="bold">Con</text>
<text x="491.30" y="357.80" font-size="5.7" text-anchor="middle" font-weight="bold">AD</text>
<line x1="473.20" y1="349.40" x2="473.20" y2="350.90" stroke="#111" stroke-width="0.7"/>
<text x="472.70" y="275.37" font-size="3.9" text-anchor="middle" font-weight="bold" textLength="14.0" lengthAdjust="spacingAndGlyphs" style="stroke-width:0.35px"><tspan font-style="italic">p</tspan>&lt;0.05</text>
<text x="413.20" y="309.04" font-size="6.4" text-anchor="middle" font-weight="bold" transform="rotate(-90 413.20 306.80)" textLength="86.00" lengthAdjust="spacingAndGlyphs">Fold expansion of CFU-GEMM</text>
<text x="419.70" y="309.57" font-size="6.2" text-anchor="middle" font-weight="bold" transform="rotate(-90 419.70 307.40)" textLength="33.00" lengthAdjust="spacingAndGlyphs">(over day 0)</text>
</g>
</svg>
</body></html>
